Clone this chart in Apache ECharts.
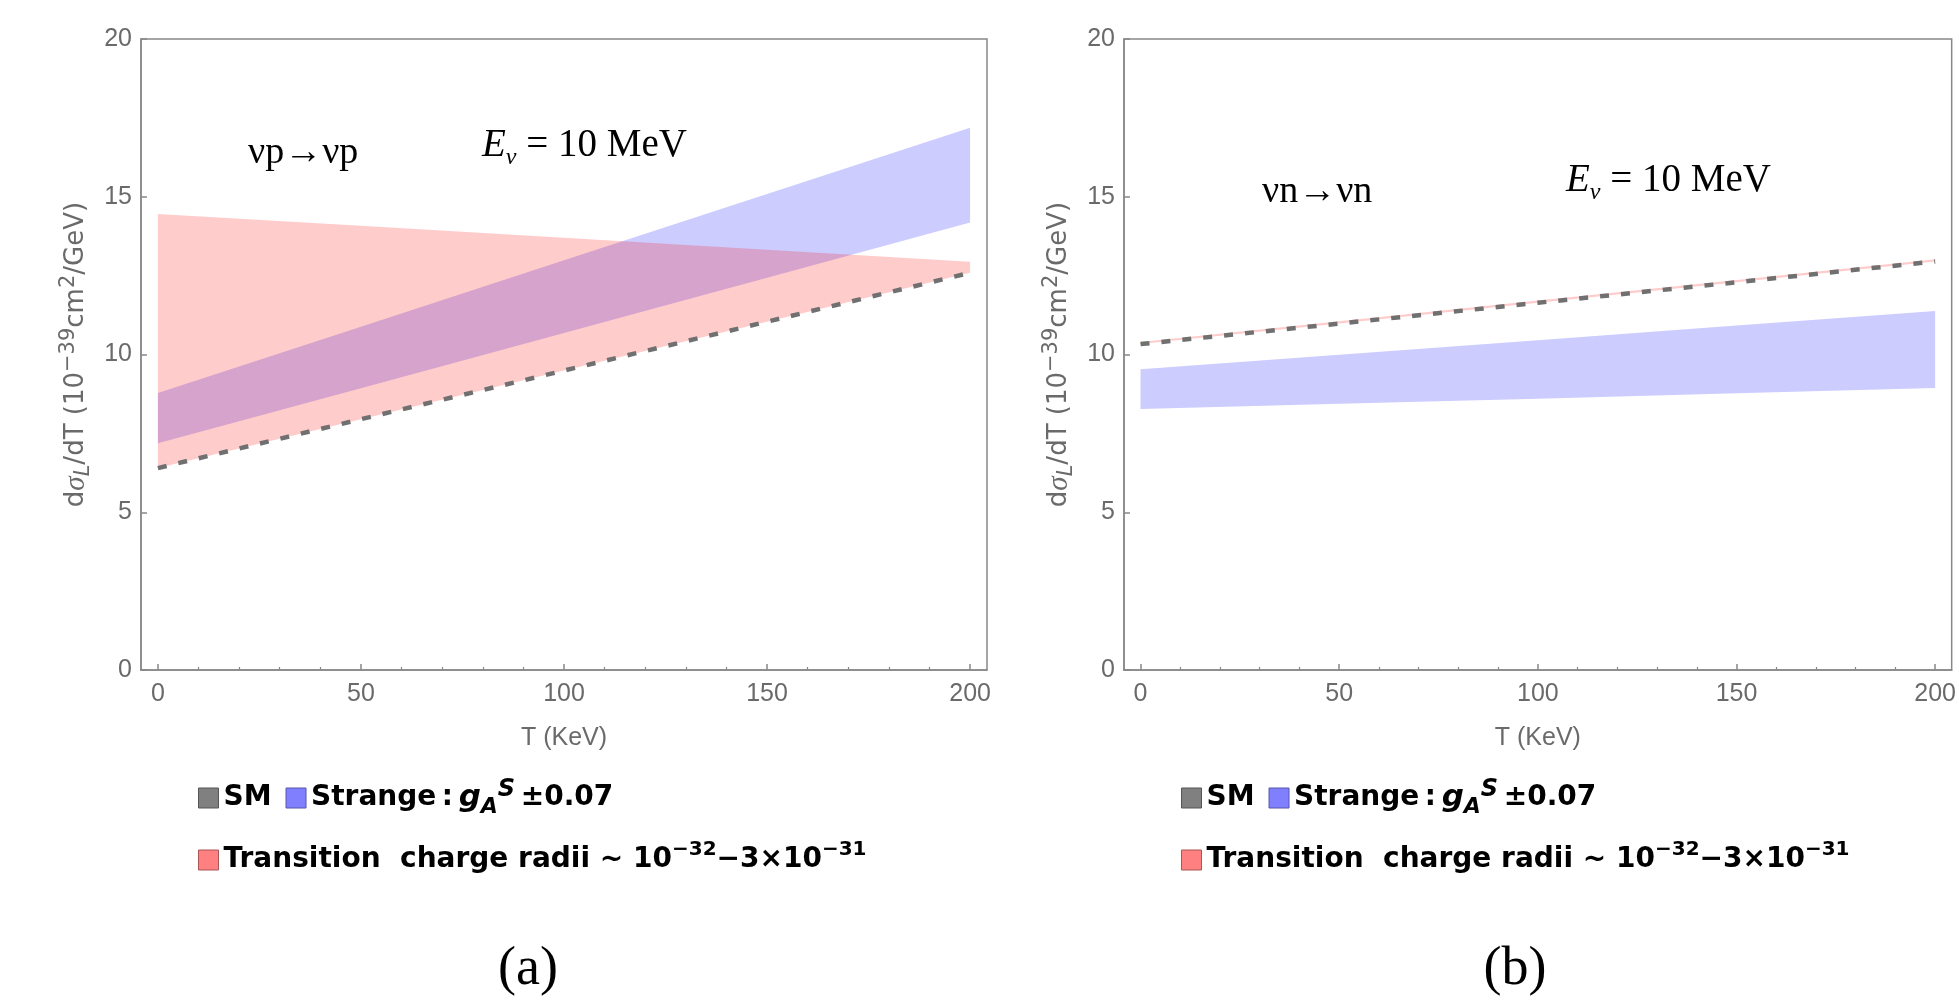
<!DOCTYPE html>
<html>
<head>
<meta charset="utf-8">
<script src="https://cdn.jsdelivr.net/npm/echarts@6/dist/echarts.min.js"></script>
<style>
html,body{margin:0;padding:0;background:#fff;}
#main{width:1959px;height:1001px;}
</style>
</head>
<body>
<div id="main"></div>
<script>
// T axis (KeV)
var T = [0, 50, 100, 150, 200];
var xTicks = [0, 50, 100, 150, 200];
var xMinorTicks = [10, 20, 30, 40, 60, 70, 80, 90, 110, 120, 130, 140, 160, 170, 180, 190];

// (a) nu p -> nu p
var smP = [6.40, 7.95, 9.49, 11.04, 12.59];
var radiiTopP = [14.45, 14.08, 13.70, 13.32, 12.94];
var strangeLowP = [7.19, 8.93, 10.68, 12.43, 14.18];
var strangeHighP = [8.78, 10.88, 12.99, 15.09, 17.19];

// (b) nu n -> nu n
var smN = [10.33, 10.98, 11.64, 12.29, 12.95];
var radiiTopN = [10.40, 11.05, 11.71, 12.36, 13.02];
var strangeLowN = [8.27, 8.44, 8.60, 8.77, 8.94];
var strangeHighN = [9.53, 9.99, 10.45, 10.92, 11.38];

var sans = "Liberation Sans";
var wide = "DejaVu Sans";
var serif = "Liberation Serif";
var labelColor = "#6a6a6a";
var frameColor = "#888";

function pairs(xs, ys){
	var out = [];
	for(var i=0;i<xs.length;i++){
		out.push([xs[i], ys[i]]);
	}
	return out;
}

// filled band between lo and hi, drawn as one polygon through the axis scales
function bandSeries(name, xi, yi, xs, lo, hi, fill){
	var data = [];
	for(var i=0;i<xs.length;i++){
		data.push([xs[i], lo[i], hi[i]]);
	}
	return {
		name: name, type: "custom", xAxisIndex: xi, yAxisIndex: yi, silent: true,
		data: data, encode: {x: 0, y: [1, 2]},
		itemStyle: {color: fill},
		renderItem: function(params, api){
			if(params.dataIndex !== 0) return null;
			var pts = [];
			for(var k=0;k<data.length;k++){
				pts.push(api.coord([data[k][0], data[k][1]]));
			}
			for(var k=data.length-1;k>=0;k--){
				pts.push(api.coord([data[k][0], data[k][2]]));
			}
			return {type: "polygon", shape: {points: pts}, style: {fill: fill}};
		}
	};
}

var grids = [
	{left:141, top:39, width:846, height:631},
	{left:1124, top:39, width:847, height:631}
];

var xAxes = [], yAxes = [], series = [], legends = [];
var yName = "d{sig|\u03c3}{sub|L}/dT (10{sup|\u221239}cm{sup|2}/GeV)";

var legendText = {
	fontFamily: wide, fontSize: 28, fontWeight: "bold", color: "#000", lineHeight: 40,
	rich: {
		sup: {fontFamily: wide, fontSize: 20, fontWeight: "bold", color: "#000", verticalAlign: "top", lineHeight: 40},
		gi: {fontFamily: wide, fontSize: 31, fontWeight: "bold", fontStyle: "italic", color: "#000", lineHeight: 40},
		gsub: {fontFamily: wide, fontSize: 22, fontWeight: "bold", fontStyle: "italic", color: "#000", verticalAlign: "bottom", lineHeight: 40},
		gsup: {fontFamily: wide, fontSize: 24, fontWeight: "bold", fontStyle: "italic", color: "#000", verticalAlign: "top", lineHeight: 40}
	}
};
function legendFormatter(name){
	if(name == "Strange") return "Strange\u2009:\u2009{gi|g}{gsub|A}{gsup|S}\u2009\u00b10.07";
	if(name == "Transition") return "Transition  charge radii ~ 10{sup|\u221232}\u22123\u00d710{sup|\u221231}";
	return name;
}

var panels = [
	{sm: smP, radiiTop: radiiTopP, low: strangeLowP, high: strangeHighP},
	{sm: smN, radiiTop: radiiTopN, low: strangeLowN, high: strangeHighN}
];

for(var g=0; g<panels.length; g++){
	var p = panels[g];
	// main x axis (major ticks + labels)
	xAxes.push({
		type: "value", gridIndex: g, min: -4.16, max: 204.16,
		name: "T (KeV)", nameLocation: "middle", nameGap: 56,
		nameTextStyle: {fontFamily: sans, fontSize: 25, color: labelColor},
		axisLine: {onZero: false, lineStyle: {color: frameColor, width: 1.5}},
		axisTick: {inside: true, length: 6, customValues: xTicks, lineStyle: {color: frameColor, width: 1.5}},
		axisLabel: {customValues: xTicks, fontFamily: sans, fontSize: 25, color: labelColor, margin: 12},
		splitLine: {show: false}
	});
	// minor ticks
	xAxes.push({
		type: "value", gridIndex: g, min: -4.16, max: 204.16, position: "bottom",
		axisLine: {show: false, onZero: false},
		axisTick: {inside: true, length: 3, customValues: xMinorTicks, lineStyle: {color: frameColor, width: 1.2}},
		axisLabel: {show: false},
		splitLine: {show: false}
	});
	yAxes.push({
		type: "value", gridIndex: g, min: 0, max: 20, interval: 5,
		name: yName, nameLocation: "middle", nameRotate: 90, nameGap: 47,
		nameTextStyle: {
			fontFamily: wide, fontSize: 26, color: labelColor, lineHeight: 36,
			rich: {
				sig: {fontFamily: serif, fontSize: 29, fontStyle: "italic", color: labelColor, lineHeight: 36},
				sub: {fontFamily: wide, fontSize: 21, fontStyle: "italic", color: labelColor, verticalAlign: "bottom", lineHeight: 36},
				sup: {fontFamily: wide, fontSize: 21, color: labelColor, verticalAlign: "top", lineHeight: 36}
			}
		},
		axisLine: {show: true, onZero: false, lineStyle: {color: frameColor, width: 1.5}},
		axisTick: {inside: true, length: 6, lineStyle: {color: frameColor, width: 1.5}},
		axisLabel: {fontFamily: sans, fontSize: 25, color: labelColor, margin: 9},
		splitLine: {show: false}
	});
	var xi = g*2;
	series.push(bandSeries("Strange", xi, g, T, p.low, p.high, "rgb(204,204,255)"));
	series.push(bandSeries("Transition", xi, g, T, p.sm, p.radiiTop, "rgba(255,0,0,0.2)"));
	series.push({
		name: "SM", type: "line", xAxisIndex: xi, yAxisIndex: g,
		data: pairs(T, p.sm), symbol: "none", silent: true,
		lineStyle: {color: "#707070", width: 4.5, type: [9, 12], cap: "butt"}
	});

	var lx = 193 + g*983;
	legends.push({
		left: lx, top: 773, orient: "horizontal", itemGap: 14, itemWidth: 20, itemHeight: 20,
		selectedMode: false, textStyle: legendText, formatter: legendFormatter,
		data: [
			{name: "SM", icon: "rect", itemStyle: {color: "#808080", borderColor: "#555", borderWidth: 1}},
			{name: "Strange", icon: "rect", itemStyle: {color: "#8080ff", borderColor: "#5555aa", borderWidth: 1}}
		]
	});
	legends.push({
		left: lx, top: 835, orient: "horizontal", itemWidth: 20, itemHeight: 20,
		selectedMode: false, textStyle: legendText, formatter: legendFormatter,
		data: [
			{name: "Transition", icon: "rect", itemStyle: {color: "#ff8080", borderColor: "#aa5555", borderWidth: 1}}
		]
	});
}

var annot = {fontFamily: serif, fontSize: 38, fill: "#000", verticalAlign: "middle", align: "left"};
function eLabel(x, y){
	return {
		type: "text", x: x, y: y, z: 100,
		style: {
			text: "{e|E}{s|\u03bd} = 10 MeV",
			fontFamily: serif, fontSize: 39, fill: "#000", verticalAlign: "middle", align: "left",
			rich: {
				e: {fontFamily: serif, fontSize: 39, fontStyle: "italic", fill: "#000", lineHeight: 48},
				s: {fontFamily: serif, fontSize: 24, fontStyle: "italic", fill: "#000", verticalAlign: "bottom", lineHeight: 48}
			}
		}
	};
}

var option = {
	backgroundColor: "#fff",
	animation: false,
	grid: grids.map(function(r){
		return {left: r.left, top: r.top, width: r.width, height: r.height, show: true,
			borderColor: frameColor, borderWidth: 1.5, backgroundColor: "transparent"};
	}),
	xAxis: xAxes,
	yAxis: yAxes,
	legend: legends,
	series: series,
	graphic: [
		{type: "text", x: 248, y: 153, z: 100, style: Object.assign({text: "\u03bdp\u2192\u03bdp"}, annot)},
		eLabel(482, 146),
		{type: "text", x: 1262, y: 192, z: 100, style: Object.assign({text: "\u03bdn\u2192\u03bdn"}, annot)},
		eLabel(1566, 181),
		{type: "text", x: 528, y: 970, z: 100, style: {text: "(a)", fontFamily: serif, fontSize: 54, fill: "#000", align: "center", verticalAlign: "middle"}},
		{type: "text", x: 1515, y: 970, z: 100, style: {text: "(b)", fontFamily: serif, fontSize: 54, fill: "#000", align: "center", verticalAlign: "middle"}}
	]
};

var myChart = echarts.init(document.getElementById("main"), null, {renderer: "canvas"});
if (option && typeof option === "object") {
	myChart.setOption(option, true);
}
</script>
</body>
</html>
